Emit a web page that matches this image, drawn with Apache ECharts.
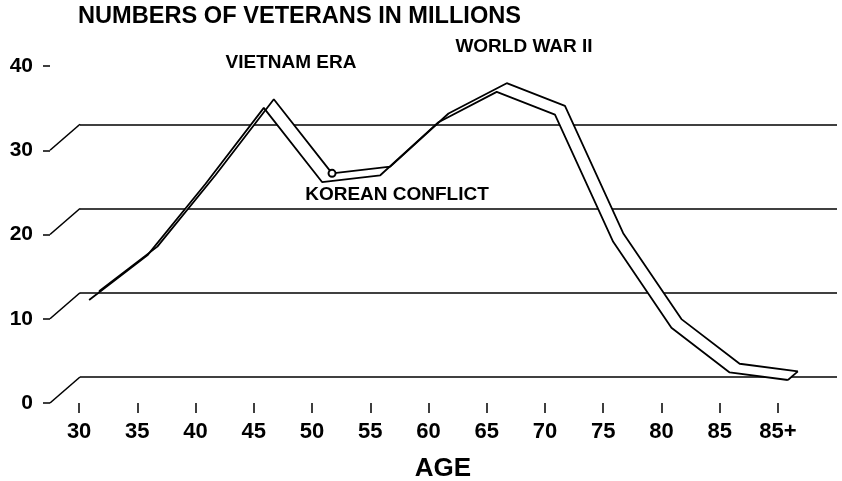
<!DOCTYPE html>
<html>
<head>
<meta charset="utf-8">
<script src="https://cdn.jsdelivr.net/npm/echarts@6.0.0/dist/echarts.min.js"></script>
<style>
  html, body { margin: 0; padding: 0; background: #fff; }
  #main { width: 842px; height: 481px; }
</style>
</head>
<body>
<div id="main"></div>
<script>
// ages on the x axis, veterans in millions
const ages = ['30', '35', '40', '45', '50', '55', '60', '65', '70', '75', '80', '85', '85+']
const veterans = [11.2, 16.5, 25.0, 34.0, 25.2, 26.0, 32.3, 35.9, 33.2, 18.1, 7.9, 2.6, 1.7]
const yTicks = [0, 10, 20, 30, 40]
const backLines = [0, 10, 20, 30]
const titleText = 'NUMBERS OF VETERANS IN MILLIONS'
const vietnamText = 'VIETNAM ERA'
const wwiiText = 'WORLD WAR II'
const koreaText = 'KOREAN CONFLICT'
const xName = 'AGE'

const FONT = '"Liberation Sans", Arial, sans-serif'
// pseudo 3D depth of the back plane, in px
const DX = 30
const DY = 26

const chart = echarts.init(document.getElementById('main'), null, { renderer: 'canvas' })

// k = 0 front plane, 1 lower ribbon edge, 2 upper ribbon edge, 3 back plane
function gridAt (k) {
  return {
    left: 50 + k * DX / 3,
    right: 35 - k * DX / 3,
    top: 66 - k * DY / 3,
    bottom: 78 + k * DY / 3
  }
}

const xAxes = [0, 1, 2, 3].map(k => ({
  gridIndex: k,
  type: 'category',
  data: ages,
  show: k === 0,
  axisLine: { show: false },
  axisTick: { show: k === 0, alignWithLabel: true, length: 10, lineStyle: { color: '#000', width: 1.5 } },
  axisLabel: {
    show: k === 0,
    margin: 18,
    color: '#000',
    fontFamily: FONT,
    fontWeight: 'bold',
    fontSize: 22
  },
  splitLine: { show: false }
}))

const yAxes = [0, 1, 2, 3].map(k => ({
  gridIndex: k,
  type: 'value',
  min: yTicks[0],
  max: yTicks[yTicks.length - 1],
  interval: 10,
  show: k === 0 || k === 3,
  axisLine: { show: false },
  axisTick: { show: k === 0, length: 7, lineStyle: { color: '#000', width: 1.5 } },
  axisLabel: {
    show: k === 0,
    margin: 17,
    color: '#000',
    fontFamily: FONT,
    fontWeight: 'bold',
    fontSize: 21
  },
  splitLine: {
    show: k === 3,
    lineStyle: { color: ['#000', '#000', '#000', '#000', 'rgba(0,0,0,0)'], width: 1.6 }
  }
}))

const option = {
  backgroundColor: '#fff',
  animation: false,
  grid: [0, 1, 2, 3].map(gridAt),
  xAxis: xAxes,
  yAxis: yAxes,
  graphic: [
    { type: 'text', left: 78, top: 4, style: { text: titleText, font: 'bold 23.6px ' + FONT, fill: '#000' } },
    { type: 'text', x: 291, y: 63, style: { text: vietnamText, font: 'bold 19px ' + FONT, fill: '#000', align: 'center', verticalAlign: 'middle' } },
    { type: 'text', x: 524, y: 47, style: { text: wwiiText, font: 'bold 19px ' + FONT, fill: '#000', align: 'center', verticalAlign: 'middle' } },
    { type: 'text', x: 397, y: 195, style: { text: koreaText, font: 'bold 19px ' + FONT, fill: '#000', align: 'center', verticalAlign: 'middle' } },
    { type: 'text', x: 443, y: 469, style: { text: xName, font: 'bold 26px ' + FONT, fill: '#000', align: 'center', verticalAlign: 'middle' } }
  ],
  series: [
    {
      // slanted connectors from the front tick to the back plane line
      type: 'custom',
      xAxisIndex: 0,
      yAxisIndex: 0,
      data: backLines.map(v => [0, v]),
      renderItem: function (params, api) {
        const pt = api.coord([0, api.value(1)])
        const x0 = params.coordSys.x
        return {
          type: 'line',
          shape: { x1: x0, y1: pt[1], x2: x0 + DX, y2: pt[1] - DY },
          style: { stroke: '#000', lineWidth: 1.6 }
        }
      },
      z: 1
    },
    {
      // ribbon faces, white so they hide the grid lines behind
      type: 'custom',
      xAxisIndex: 1,
      yAxisIndex: 1,
      data: veterans.map((v, i) => [i, v]),
      renderItem: function (params, api) {
        const i = params.dataIndex
        const dx = DX / 3
        const dy = -DY / 3
        const p0 = api.coord([i, veterans[i]])
        if (i === veterans.length - 1) {
          return {
            type: 'line',
            shape: { x1: p0[0], y1: p0[1], x2: p0[0] + dx, y2: p0[1] + dy },
            style: { stroke: '#000', lineWidth: 1.7 },
            z2: 10
          }
        }
        const p1 = api.coord([i + 1, veterans[i + 1]])
        return {
          type: 'polygon',
          shape: {
            points: [p0, p1, [p1[0] + dx, p1[1] + dy], [p0[0] + dx, p0[1] + dy]]
          },
          style: { fill: '#fff', stroke: null }
        }
      },
      z: 2
    },
    {
      name: 'lower edge',
      type: 'line',
      xAxisIndex: 1,
      yAxisIndex: 1,
      data: veterans,
      symbol: 'none',
      lineStyle: { color: '#000', width: 1.8 },
      z: 3
    },
    {
      name: 'upper edge',
      type: 'line',
      xAxisIndex: 2,
      yAxisIndex: 2,
      data: veterans.map((v, i) => i === 4
        ? { value: v, symbol: 'emptyCircle', symbolSize: 7, itemStyle: { color: '#000', borderColor: '#000', borderWidth: 1.5 } }
        : v),
      symbol: 'none',
      showSymbol: true,
      lineStyle: { color: '#000', width: 1.8 },
      z: 3
    }
  ]
}

chart.setOption(option)
</script>
</body>
</html>
